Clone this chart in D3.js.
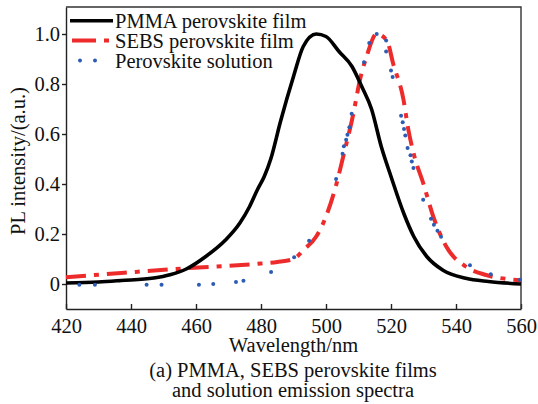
<!DOCTYPE html>
<html>
<head>
<meta charset="utf-8">
<script src="https://cdn.jsdelivr.net/npm/d3@7"></script>
<style>
  body { margin: 0; background: #fff; }
</style>
</head>
<body>
<div id="chart"></div>
<script>
// PMMA perovskite film (solid black)
const pmmaWl = [420, 430, 437, 447, 452, 457, 463, 469, 473.5, 476.5, 479, 481, 483, 486, 490, 493, 497, 500, 504, 508, 511, 514, 517, 520, 524, 527, 531, 536, 543, 550, 560];
const pmmaPl = [0.004, 0.008, 0.014, 0.024, 0.037, 0.06, 0.11, 0.175, 0.244, 0.31, 0.38, 0.43, 0.5, 0.65, 0.83, 0.95, 1.0, 0.99, 0.93, 0.87, 0.79, 0.7, 0.55, 0.43, 0.28, 0.19, 0.11, 0.055, 0.023, 0.01, 0.0];

// SEBS perovskite film (red dash-dot)
const sebsWl = [420, 437, 457, 480, 485, 490, 493, 497, 500, 503, 505.3, 508.4, 510.5, 512.5, 515.5, 518.7, 520.7, 523.8, 525.3, 527, 530, 533, 537, 543, 549, 560];
const sebsPl = [0.027, 0.044, 0.063, 0.082, 0.088, 0.1, 0.135, 0.19, 0.27, 0.39, 0.51, 0.68, 0.82, 0.91, 1.0, 0.975, 0.88, 0.74, 0.62, 0.52, 0.4, 0.27, 0.15, 0.07, 0.037, 0.015];

// Perovskite solution (blue dots)
const solWl = [424.1, 428.9, 444.8, 449.4, 460.9, 465.3, 472.3, 474.6, 483.1, 490.2, 494.8, 503.1, 505.1, 505.5, 506.2, 506.6, 507.2, 507.9, 511.7, 513.3, 515.6, 518.5, 518.5, 520.0, 520.5, 523.1, 523.6, 524.0, 524.4, 525.1, 526.0, 526.4, 526.9, 529.9, 532.3, 533.2, 534.3, 535.4, 544.3, 550.7, 559.7];
const solPl = [-0.003, -0.003, -0.003, -0.003, -0.003, 0.0, 0.008, 0.013, 0.048, 0.107, 0.173, 0.42, 0.521, 0.551, 0.577, 0.597, 0.627, 0.681, 0.887, 0.964, 1.0, 0.974, 0.93, 0.854, 0.828, 0.673, 0.647, 0.62, 0.594, 0.544, 0.515, 0.49, 0.464, 0.337, 0.261, 0.237, 0.213, 0.189, 0.075, 0.039, 0.017];

const xTicks = [420, 440, 460, 480, 500, 520, 540, 560];
const yTicks = [0, 0.2, 0.4, 0.6, 0.8, 1.0];
const legendLabels = ["PMMA perovskite film", "SEBS perovskite film", "Perovskite solution"];

const W = 538, H = 404;
const margin = {top: 7, right: 17, bottom: 95, left: 66};
const serif = "'Liberation Serif', 'Times New Roman', 'DejaVu Serif', serif";

const svg = d3.select("#chart").append("svg")
    .attr("width", W)
    .attr("height", H)
    .attr("font-family", serif);

const x = d3.scaleLinear().domain([420, 560]).range([margin.left, W - margin.right]);
const y = d3.scaleLinear().domain([-0.1, 1.108]).range([H - margin.bottom, margin.top]);

const red = "#ee2b2b", blue = "#2c5cb4";
const dashDot = "20,8,5,8";

// axes
svg.append("g")
    .attr("transform", `translate(0,${H - margin.bottom})`)
    .call(d3.axisBottom(x).tickValues(xTicks).tickSizeInner(-5).tickSizeOuter(0).tickPadding(9.5).tickFormat(d3.format("d")))
    .attr("font-family", serif)
    .call(g => g.selectAll("text").attr("font-size", 20.5).attr("fill", "#111"))
    .call(g => g.selectAll("line, path").attr("stroke", "#222").attr("stroke-width", 1.4));

svg.append("g")
    .attr("transform", `translate(${margin.left},0)`)
    .call(d3.axisLeft(y).tickValues(yTicks).tickSizeInner(4).tickSizeOuter(0).tickPadding(2)
        .tickFormat(d => d === 0 ? "0" : d.toFixed(1)))
    .attr("font-family", serif)
    .call(g => g.selectAll("text").attr("font-size", 20.5).attr("fill", "#111"))
    .call(g => g.selectAll("line, path").attr("stroke", "#222").attr("stroke-width", 1.4));

// frame top / right
svg.append("path")
    .attr("d", `M${x(420)},${y(1.108)}H${x(560)}V${y(-0.1)}`)
    .attr("fill", "none")
    .attr("stroke", "#333")
    .attr("stroke-width", 1.4);

const line = d3.line()
    .x(d => x(d[0]))
    .y(d => y(d[1]))
    .curve(d3.curveMonotoneX);

const plot = svg.append("g");

plot.append("path")
    .datum(sebsWl.map((w, i) => [w, sebsPl[i]]))
    .attr("d", line)
    .attr("fill", "none")
    .attr("stroke", red)
    .attr("stroke-width", 4)
    .attr("stroke-dasharray", dashDot);

plot.append("path")
    .datum(pmmaWl.map((w, i) => [w, pmmaPl[i]]))
    .attr("d", line)
    .attr("fill", "none")
    .attr("stroke", "#000")
    .attr("stroke-width", 3.6);

plot.selectAll("circle.sol")
    .data(solWl.map((w, i) => [w, solPl[i]]))
    .join("circle")
    .attr("class", "sol")
    .attr("cx", d => x(d[0]))
    .attr("cy", d => y(d[1]))
    .attr("r", 2)
    .attr("fill", blue);

// legend
const leg = svg.append("g");
const lx0 = 70, lx1 = 113;
const rowY = [20.7, 40.5, 60.5];

leg.append("line").attr("x1", lx0).attr("x2", lx1).attr("y1", rowY[0]).attr("y2", rowY[0])
    .attr("stroke", "#000").attr("stroke-width", 3.6);
leg.append("line").attr("x1", lx0 + 2).attr("x2", lx1).attr("y1", rowY[1]).attr("y2", rowY[1])
    .attr("stroke", red).attr("stroke-width", 4).attr("stroke-dasharray", "24,8,5,8");
leg.selectAll("circle")
    .data([80, 95])
    .join("circle")
    .attr("cx", d => d)
    .attr("cy", rowY[2])
    .attr("r", 2)
    .attr("fill", blue);

leg.selectAll("text")
    .data(legendLabels)
    .join("text")
    .attr("x", 115)
    .attr("y", (d, i) => rowY[i] + 7.4)
    .attr("font-size", 20.5)
    .attr("fill", "#111")
    .text(d => d);

// axis titles
svg.append("text")
    .attr("x", (x(420) + x(560)) / 2)
    .attr("y", 352)
    .attr("text-anchor", "middle")
    .attr("font-size", 20.5)
    .attr("fill", "#111")
    .text("Wavelength/nm");

svg.append("text")
    .attr("transform", `translate(25,161) rotate(-90)`)
    .attr("text-anchor", "middle")
    .attr("font-size", 20.5)
    .attr("fill", "#111")
    .text("PL intensity/(a.u.)");

// caption
svg.append("text")
    .attr("x", 293)
    .attr("y", 376.5)
    .attr("text-anchor", "middle")
    .attr("font-size", 20.5)
    .attr("fill", "#111")
    .text("(a) PMMA, SEBS perovskite films");

svg.append("text")
    .attr("x", 293)
    .attr("y", 397)
    .attr("text-anchor", "middle")
    .attr("font-size", 20.5)
    .attr("fill", "#111")
    .text("and solution emission spectra");
</script>
</body>
</html>
